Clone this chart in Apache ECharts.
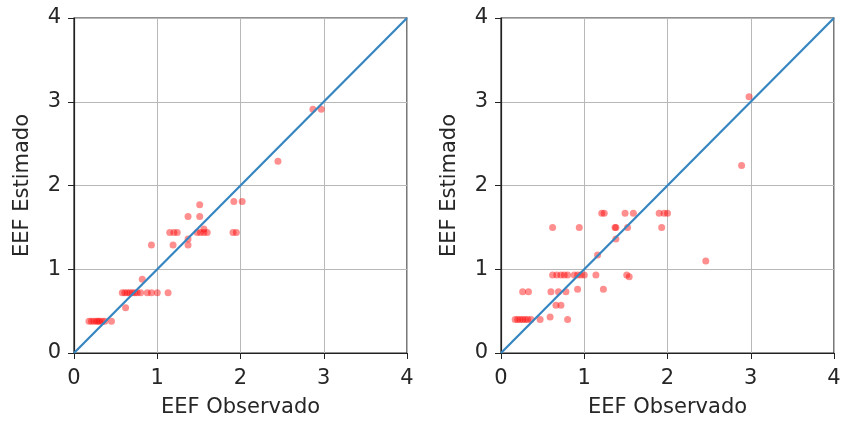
<!DOCTYPE html>
<html><head><meta charset="utf-8">
<script src="https://cdn.jsdelivr.net/npm/echarts@6/dist/echarts.min.js"></script>
<style>html,body{margin:0;padding:0;background:#fff}#c{width:846px;height:423px}</style>
</head><body><div id="c"></div>
<script>
var xTicks = [0, 1, 2, 3, 4];
var yTicks = [0, 1, 2, 3, 4];
var diag = [[0, 0], [4, 4]];
var obs1 = [0.18,0.21,0.24,0.27,0.29,0.31,0.34,0.37,0.45,0.62,0.58,0.61,0.64,0.67,0.70,0.73,0.76,0.80,0.88,0.93,1.0,1.13,0.82,0.93,1.19,1.37,1.37,1.15,1.2,1.24,1.48,1.52,1.56,1.6,1.91,1.95,1.56,1.37,1.51,1.51,1.92,2.02,2.45,2.87,2.97];
var est1 = [0.38,0.38,0.38,0.38,0.38,0.38,0.38,0.38,0.38,0.54,0.72,0.72,0.72,0.72,0.72,0.72,0.72,0.72,0.72,0.72,0.72,0.72,0.88,1.29,1.29,1.29,1.36,1.44,1.44,1.44,1.44,1.44,1.44,1.44,1.44,1.44,1.48,1.63,1.63,1.77,1.81,1.81,2.29,2.91,2.91];
var obs2 = [0.17,0.2,0.23,0.26,0.29,0.32,0.36,0.47,0.8,0.59,0.66,0.72,0.26,0.33,0.6,0.69,0.78,0.92,1.23,0.62,0.67,0.72,0.76,0.8,0.88,0.92,0.96,1.0,1.14,1.51,1.54,2.46,1.16,1.38,0.62,0.94,1.37,1.38,1.52,1.93,1.21,1.24,1.49,1.59,1.9,1.96,2.0,2.89,2.98];
var est2 = [0.40,0.40,0.40,0.40,0.40,0.40,0.40,0.40,0.40,0.43,0.57,0.57,0.73,0.73,0.73,0.73,0.73,0.76,0.76,0.93,0.93,0.93,0.93,0.93,0.93,0.93,0.93,0.93,0.93,0.93,0.91,1.10,1.17,1.36,1.50,1.50,1.50,1.50,1.50,1.50,1.67,1.67,1.67,1.67,1.67,1.67,1.67,2.24,3.06];

function pairs(a, b) { return a.map(function (v, i) { return [v, b[i]]; }); }

var font = 'DejaVu Sans';
var fs = 21;
function xAxis(idx) {
  return {
    gridIndex: idx, type: 'value', min: xTicks[0], max: xTicks[xTicks.length - 1], interval: 1,
    name: 'EEF Observado', nameLocation: 'middle', nameGap: 44,
    nameTextStyle: { fontFamily: font, fontSize: fs, color: '#262626' },
    axisLine: { show: true, onZero: false, lineStyle: { color: '#222', width: 1.2 } },
    axisTick: { show: true, length: 6, lineStyle: { color: '#222' } },
    axisLabel: { fontFamily: font, fontSize: fs, color: '#262626', margin: 15 },
    splitLine: { show: true, lineStyle: { color: '#b8b8b8', width: 1 } }
  };
}
function yAxis(idx) {
  return {
    gridIndex: idx, type: 'value', min: yTicks[0], max: yTicks[yTicks.length - 1], interval: 1,
    name: 'EEF Estimado', nameLocation: 'middle', nameGap: 41, nameRotate: 90,
    nameTextStyle: { fontFamily: font, fontSize: fs, color: '#262626' },
    axisLine: { show: true, onZero: false, lineStyle: { color: '#222', width: 1.2 } },
    axisTick: { show: true, length: 6, lineStyle: { color: '#222' } },
    axisLabel: { fontFamily: font, fontSize: fs, color: '#262626', margin: 13 },
    splitLine: { show: true, lineStyle: { color: '#b8b8b8', width: 1 } }
  };
}
var chart = echarts.init(document.getElementById('c'), null, { renderer: 'canvas' });
chart.setOption({
  animation: false,
  backgroundColor: '#fff',
  grid: [
    { left: 74, top: 18, width: 333, height: 335, show: true, borderColor: '#222', borderWidth: 1.2, backgroundColor: 'transparent' },
    { left: 501, top: 18, width: 333, height: 335, show: true, borderColor: '#222', borderWidth: 1.2, backgroundColor: 'transparent' }
  ],
  xAxis: [xAxis(0), xAxis(1)],
  yAxis: [yAxis(0), yAxis(1)],
  series: [
    { type: 'scatter', xAxisIndex: 0, yAxisIndex: 0, data: pairs(obs1, est1), symbolSize: 7,
      itemStyle: { color: 'rgba(255,0,0,0.55)' }, z: 2 },
    { type: 'line', xAxisIndex: 0, yAxisIndex: 0, data: diag, showSymbol: false,
      lineStyle: { color: '#3585c1', width: 2.2 }, z: 3 },
    { type: 'scatter', xAxisIndex: 1, yAxisIndex: 1, data: pairs(obs2, est2), symbolSize: 7,
      itemStyle: { color: 'rgba(255,0,0,0.55)' }, z: 2 },
    { type: 'line', xAxisIndex: 1, yAxisIndex: 1, data: diag, showSymbol: false,
      lineStyle: { color: '#3585c1', width: 2.2 }, z: 3 }
  ]
});
</script></body></html>
